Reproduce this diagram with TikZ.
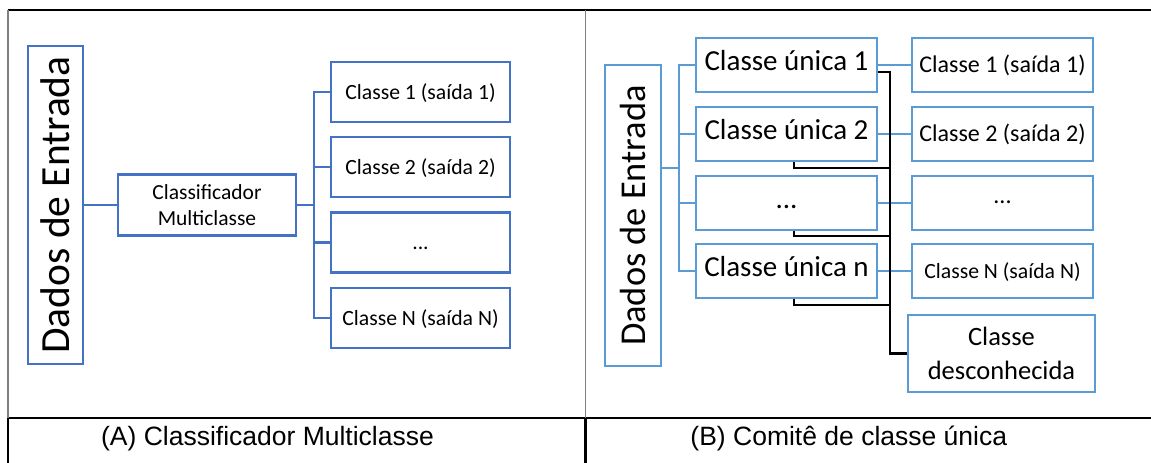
\documentclass[tikz,border=0pt]{standalone}
\usepackage{fontspec}
\setmainfont{Carlito}
\newfontfamily\capfont{Liberation Sans}
\definecolor{blueA}{RGB}{68,114,196}
\definecolor{blueB}{RGB}{91,155,213}
\definecolor{frameGray}{RGB}{128,128,128}
\newcommand{\fs}[1]{\fontsize{#1}{1.22\dimexpr#1pt\relax}\selectfont}
\tikzset{
  boxA/.style={draw=blueA, line width=2.5pt, inner sep=0pt, align=center},
  boxB/.style={draw=blueB, line width=2.2pt, inner sep=0pt, align=center},
  vpos/.style 2 args={text height=#1pt, text depth=#2pt},
  outA/.style={boxA, vpos={20}{6}, minimum width=179, minimum height=60, font=\fs{21.7}},
  single/.style={boxB, vpos={26}{14.6}, minimum width=181, minimum height=54, font=\fs{29}},
  outB/.style={boxB, vpos={22}{6.5}, minimum width=181, minimum height=54, font=\fs{24}},
  linkA/.style={draw=blueA, line width=2.5pt},
  linkB/.style={draw=blueB, line width=2.2pt},
  linkK/.style={draw=black, line width=2.2pt},
  frameK/.style={draw=black, line width=2.5pt},
  frameG/.style={draw=frameGray, line width=1.2pt},
  caption/.style={anchor=base, inner sep=0pt, font=\capfont\fs{26.5}},
}
\begin{document}
\begin{tikzpicture}[x=1pt, y=-1pt]
\useasboundingbox (0,0) rectangle (1151,463);

% outer frame and panel dividers
\draw[frameK] (8,10) -- (1151,10);
\draw[frameK] (8,418) -- (1151,418);
\draw[frameG] (8,10) -- (8,418);
\draw[frameK] (8,418) -- (8,463);
\draw[frameG] (585.5,10) -- (585.5,418);
\draw[frameK] (585.5,418) -- (585.5,463);

% ---------- (A) multiclass classifier ----------
\node[boxA, minimum width=55, minimum height=318, font=\fs{41.5}] (dA) at (55.5,205)
  {\rotatebox{90}{Dados de Entrada}};
\node[boxA, minimum width=178, minimum height=61, font=\fs{21.5}] (cls) at (207,205)
  {Classificador\\Multiclasse};
\node[outA] (oA1) at (420.5,92)    {Classe 1 (saída 1)};
\node[outA] (oA2) at (420.5,167)   {Classe 2 (saída 2)};
\node[outA] (oA3) at (420.5,242.5) {...};
\node[outA] (oA4) at (420.5,318)   {Classe N (saída N)};

\coordinate (bA) at (314,205);
\draw[linkA] (dA.east) -- (cls.west);
\draw[linkA] (cls.east) -- (bA);
\draw[linkA] (oA1.west) -- (oA1.west -| bA) -- (oA4.west -| bA) -- (oA4.west);
\draw[linkA] (oA2.west) -- (oA2.west -| bA);
\draw[linkA] (oA3.west) -- (oA3.west -| bA);

% ---------- (B) committee of single-class classifiers ----------
\node[boxB, minimum width=56, minimum height=301, font=\fs{36.4}] (dB) at (633,215.5)
  {\rotatebox{90}{Dados de Entrada}};
\node[single] (su1) at (786.5,65)  {Classe única 1};
\node[single] (su2) at (786.5,134) {Classe única 2};
\node[single] (su3) at (786.5,203) {...};
\node[single] (su4) at (786.5,271) {Classe única n};
\node[outB] (oB1) at (1002.5,65)  {Classe 1 (saída 1)};
\node[outB] (oB2) at (1002.5,134) {Classe 2 (saída 2)};
\node[outB, vpos={10}{10}] (oB3) at (1002.5,203) {...};
\node[outB, vpos={20}{6}, font=\fs{21.7}] (oB4) at (1002.5,271) {Classe N (saída N)};
\node[boxB, minimum width=187, minimum height=77, font=\fontsize{26.5}{34}\selectfont] (unk) at (1001.5,353.5)
  {Classe\\desconhecida};

\coordinate (bB) at (679,168);
\draw[linkB] (dB.east |- bB) -- (bB);
\draw[linkB] (su1.west) -- (su1.west -| bB) -- (su4.west -| bB) -- (su4.west);
\draw[linkB] (su2.west) -- (su2.west -| bB);
\draw[linkB] (su3.west) -- (su3.west -| bB);
\draw[linkB] (su1.east) -- (oB1.west);
\draw[linkB] (su2.east) -- (oB2.west);
\draw[linkB] (su3.east) -- (oB3.west);
\draw[linkB] (su4.east) -- (oB4.west);

% rejection path to the unknown class
\coordinate (vb) at (890,72);
\draw[linkK] ([shift={(0,7)}]su1.east) -- (vb) |- (unk.west);
\draw[linkK] ([shift={(7.5,0)}]su2.south) -- ++(0,6) -| (vb);
\draw[linkK] ([shift={(7.5,0)}]su3.south) -- ++(0,5) -| (vb);
\draw[linkK] ([shift={(7.5,0)}]su4.south) -- ++(0,6) -| (vb);

% captions
\node[caption] (capA) at (267.5,445.5) {(A) Classificador Multiclasse};
\node[caption] (capB) at (848.8,445.5) {(B) Comitê de classe única};
\end{tikzpicture}
\end{document}
